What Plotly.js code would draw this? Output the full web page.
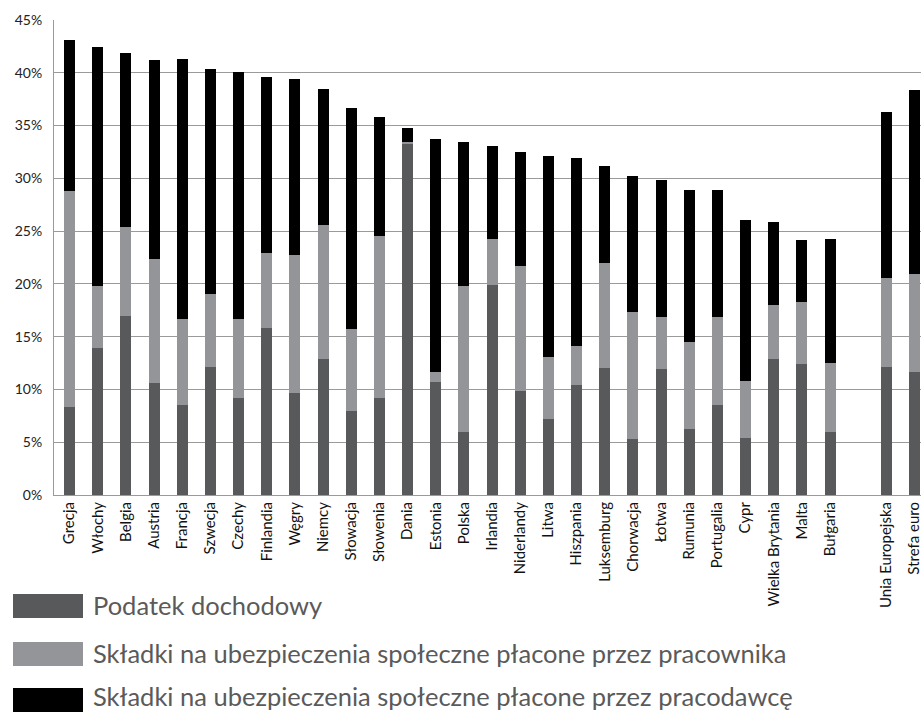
<!DOCTYPE html>
<html>
<head>
<meta charset="utf-8">
<script src="https://cdn.plot.ly/plotly-3.0.1.min.js"></script>
<style>html,body{margin:0;padding:0;background:#fff;}#chart{width:921px;height:712px;}</style>
</head>
<body>
<div id="chart"></div>
<script>
// Countries (sorted by total tax wedge)
const countries = ["Grecja","Włochy","Belgia","Austria","Francja","Szwecja","Czechy","Finlandia","Węgry","Niemcy","Słowacja","Słowenia","Dania","Estonia","Polska","Irlandia","Niderlandy","Litwa","Hiszpania","Luksemburg","Chorwacja","Łotwa","Rumunia","Portugalia","Cypr","Wielka Brytania","Malta","Bułgaria"];
const incomeTax   = [8.3,13.9,17.0,10.6,8.5,12.1,9.2,15.8,9.7,12.9,8.0,9.2,33.3,10.7,6.0,19.9,9.9,7.2,10.4,12.0,5.3,11.9,6.3,8.5,5.4,12.9,12.4,6.0];
const employeeSSC = [20.5,5.9,8.4,11.8,8.2,6.9,7.5,7.1,13.0,12.7,7.7,15.3,0.15,1.0,13.8,4.4,11.8,5.9,3.7,10.0,12.0,5.0,8.2,8.4,5.4,5.1,5.9,6.5];
const employerSSC = [14.3,22.6,16.5,18.8,24.6,21.4,23.4,16.7,16.7,12.9,21.0,11.3,1.3,22.0,13.6,8.8,10.8,19.0,17.8,9.2,12.9,12.9,14.4,12.0,15.3,7.9,5.9,11.8];

// Aggregates
const aggregates = ["Unia Europejska","Strefa euro"];
const aggIncomeTax   = [12.1,11.7];
const aggEmployeeSSC = [8.5,9.2];
const aggEmployerSSC = [15.7,17.5];

const seriesNames = ["Podatek dochodowy","Składki na ubezpieczenia społeczne płacone przez pracownika","Składki na ubezpieczenia społeczne płacone przez pracodawcę"];
const seriesColors = ["#58595b","#939598","#000000"];

const spacer = " ";
const cats = countries.concat([spacer], aggregates);
const s1 = incomeTax.concat([null], aggIncomeTax);
const s2 = employeeSSC.concat([null], aggEmployeeSSC);
const s3 = employerSSC.concat([null], aggEmployerSSC);

const traces = [s1, s2, s3].map((vals, i) => ({
  type: "bar",
  x: cats,
  y: vals,
  name: seriesNames[i],
  marker: {color: seriesColors[i], line: {width: 0}},
  hoverinfo: "x+y+name"
}));

const legendShapes = [];
const legendAnns = [];
const swTop = [594, 642, 688];
const txtMid = [605, 653, 696];
const plotTop = 20, plotBottom = 495, plotH = plotBottom - plotTop;
const plotL = 54, plotW = 867;
function py(p){ return (plotBottom - p) / plotH; }
function px(p){ return (p - plotL) / plotW; }
seriesNames.forEach((n, i) => {
  legendShapes.push({type: "rect", xref: "paper", yref: "paper",
    x0: px(13), x1: px(83), y0: py(swTop[i]), y1: py(swTop[i] + 24),
    fillcolor: seriesColors[i], line: {width: 0}});
  legendAnns.push({xref: "paper", yref: "paper", x: px(91), y: py(txtMid[i]),
    xanchor: "left", yanchor: "middle", showarrow: false, text: n,
    font: {family: "Lato, sans-serif", size: 25.5, color: "#5a5a5a"}});
});

const layout = {
  width: 921, height: 712,
  margin: {l: 54, r: 0, t: 20, b: 217},
  paper_bgcolor: "#fff", plot_bgcolor: "#fff",
  barmode: "stack",
  bargap: 0.61,
  showlegend: false,
  font: {family: "Lato, sans-serif", color: "#222"},
  xaxis: {
    type: "category",
    categoryorder: "array", categoryarray: cats,
    range: [-0.55, 30.227],
    tickangle: -90,
    tickfont: {size: 15, color: "#111"},
    showgrid: false,
    showline: true, linecolor: "#9a9a9a", linewidth: 1,
    ticks: "",
    fixedrange: true
  },
  yaxis: {
    range: [0, 45],
    dtick: 5,
    ticksuffix: "%",
    tickfont: {size: 14, color: "#222"},
    showgrid: true, gridcolor: "#9a9a9a", gridwidth: 1,
    showline: true, linecolor: "#9a9a9a", linewidth: 1,
    zeroline: false,
    ticks: "",
    ticklabelstandoff: 8,
    fixedrange: true
  },
  shapes: legendShapes,
  annotations: legendAnns
};

Plotly.newPlot("chart", traces, layout, {displayModeBar: false, staticPlot: true});
</script>
</body>
</html>
